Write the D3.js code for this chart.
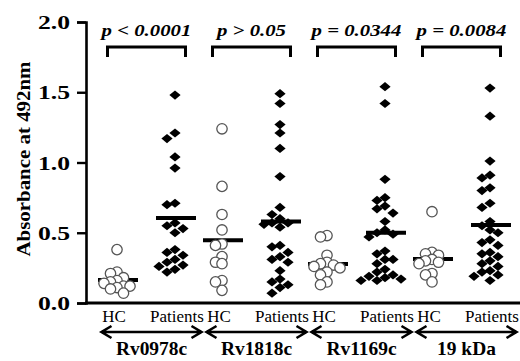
<!DOCTYPE html>
<html>
<head>
<meta charset="utf-8">
<script src="https://cdn.jsdelivr.net/npm/d3@7"></script>
<style>
  body { margin: 0; background: #fff; }
  svg { display: block; }
</style>
</head>
<body>
<div id="chart"></div>
<script>
// Groups and sub-columns
const groups = ["Rv0978c", "Rv1818c", "Rv1169c", "19 kDa"];
const subgroups = ["HC", "Patients"];
const pLabels = ["p < 0.0001", "p > 0.05", "p = 0.0344", "p = 0.0084"];
const yTicks = [0, 0.5, 1.0, 1.5, 2.0];

// Absorbance values
const hcValues = [
  [0.38, 0.22, 0.21, 0.18, 0.16, 0.15, 0.14, 0.12, 0.12, 0.11, 0.10, 0.07],
  [1.24, 0.83, 0.63, 0.52, 0.42, 0.41, 0.33, 0.29, 0.28, 0.16, 0.15, 0.09],
  [0.48, 0.47, 0.34, 0.29, 0.28, 0.27, 0.26, 0.25, 0.22, 0.20, 0.15, 0.13],
  [0.65, 0.36, 0.35, 0.34, 0.31, 0.30, 0.29, 0.28, 0.21, 0.20, 0.15]
];
const patientValues = [
  [1.48, 1.21, 1.17, 1.04, 0.96, 0.71, 0.70, 0.57, 0.55, 0.53, 0.50, 0.38, 0.36,
   0.34, 0.31, 0.29, 0.27, 0.26, 0.24, 0.22],
  [1.49, 1.42, 1.27, 1.21, 1.10, 0.90, 0.68, 0.63, 0.60, 0.57, 0.57, 0.56, 0.54,
   0.41, 0.40, 0.36, 0.33, 0.31, 0.29, 0.23, 0.17, 0.15, 0.13, 0.11, 0.07],
  [1.54, 1.42, 0.88, 0.75, 0.73, 0.69, 0.67, 0.64, 0.58, 0.52, 0.50, 0.49, 0.47,
   0.37, 0.35, 0.31, 0.31, 0.28, 0.24, 0.22, 0.20, 0.19, 0.18, 0.17, 0.16, 0.16],
  [1.53, 1.33, 1.01, 0.91, 0.89, 0.82, 0.80, 0.71, 0.68, 0.58, 0.55, 0.52, 0.50,
   0.45, 0.43, 0.41, 0.36, 0.35, 0.33, 0.30, 0.28, 0.26, 0.23, 0.22, 0.20, 0.19, 0.16]
];

const width = 520;
const height = 361;
const serif = "'Liberation Serif', 'DejaVu Serif', 'Times New Roman', serif";

const svg = d3.select("#chart").append("svg")
  .attr("width", width)
  .attr("height", height);

// Scales
const y = d3.scaleLinear().domain([0, 2]).range([303, 22]);
const xGroup = d3.scaleBand().domain(groups).range([93, 513]);
const xSub = d3.scalePoint().domain(subgroups).range([24, 82]);
const xPos = (g, s) => xGroup(g) + xSub(s);
const groupMid = g => xGroup(g) + xGroup.bandwidth() / 2;

function addText(sel) {
  return sel.append("text").style("font-family", serif).attr("fill", "#000");
}

// Y axis
const yAxis = svg.append("g")
  .attr("transform", "translate(86,0)")
  .call(d3.axisLeft(y).tickValues(yTicks).tickSize(9).tickFormat(d3.format(".1f")));
yAxis.select(".domain").attr("stroke", "#000").attr("stroke-width", 2.6);
yAxis.selectAll(".tick line").attr("stroke", "#000").attr("stroke-width", 2.4);
yAxis.selectAll(".tick text")
  .attr("x", 0).attr("dy", null)
  .attr("text-anchor", "end")
  .attr("fill", "#000")
  .style("font-family", serif)
  .style("font-size", "19px")
  .style("font-weight", "bold")
  .attr("transform", "translate(-16,6.5) scale(1.35,1)");

// X axis line
svg.append("line")
  .attr("x1", 85).attr("x2", width)
  .attr("y1", y(0)).attr("y2", y(0))
  .attr("stroke", "#000")
  .attr("stroke-width", 3);

// Y title
addText(svg)
  .attr("transform", "translate(30,159) rotate(-90) scale(1.1,1)")
  .attr("text-anchor", "middle")
  .style("font-size", "19px")
  .style("font-weight", "bold")
  .text("Absorbance at 492nm");

// Simple beeswarm so overlapping points spread sideways
function swarm(values, cx, step, minDist) {
  const pts = values.map(v => ({ v: v, y: y(v) })).sort((a, b) => a.y - b.y);
  const placed = [];
  pts.forEach(p => {
    for (let k = 0; k < 30; k++) {
      const off = k === 0 ? 0 : (k % 2 ? -Math.ceil(k / 2) : Math.ceil(k / 2)) * step;
      const x = cx + off;
      if (!placed.some(q => Math.hypot(q.x - x, q.y - p.y) < minDist)) {
        p.x = x;
        break;
      }
    }
    placed.push(p);
  });
  return placed;
}

const diamond = "M0,-4.6L5.6,0L0,4.6L-5.6,0Z";

groups.forEach((g, i) => {
  const hcX = xPos(g, "HC");
  const ptX = xPos(g, "Patients");

  // mean bars
  [[hcX, hcValues[i]], [ptX, patientValues[i]]].forEach(([cx, vals]) => {
    svg.append("line")
      .attr("x1", cx - 19).attr("x2", cx + 21)
      .attr("y1", y(d3.mean(vals))).attr("y2", y(d3.mean(vals)))
      .attr("stroke", "#000")
      .attr("stroke-width", 4);
  });

  // HC circles
  svg.append("g").selectAll("circle")
    .data(swarm(hcValues[i], hcX, 6.5, 6.5))
    .join("circle")
    .attr("cx", d => d.x)
    .attr("cy", d => d.y)
    .attr("r", 5.2)
    .attr("fill", "#fff")
    .attr("stroke", "#555")
    .attr("stroke-width", 1.3);

  // Patient diamonds
  svg.append("g").selectAll("path")
    .data(swarm(patientValues[i], ptX, 8, 7.5))
    .join("path")
    .attr("d", diamond)
    .attr("transform", d => "translate(" + d.x + "," + d.y + ")")
    .attr("fill", "#000");

  // bracket and p value
  const mid = groupMid(g) + 1;
  svg.append("path")
    .attr("d", "M" + (mid - 39) + ",57V47H" + (mid + 39) + "V57")
    .attr("fill", "none")
    .attr("stroke", "#000")
    .attr("stroke-width", 3);
  addText(svg)
    .attr("transform", "translate(" + mid + ",36) scale(1.3,1)")
    .attr("text-anchor", "middle")
    .style("font-size", "16px")
    .style("font-weight", "bold")
    .style("font-style", "italic")
    .text(pLabels[i]);

  // sub labels
  subgroups.forEach(s => {
    addText(svg)
      .attr("x", xPos(g, s) + (s === "HC" ? -3 : 2))
      .attr("y", 322)
      .attr("text-anchor", "middle")
      .style("font-size", "17px")
      .text(s);
  });

  // double arrow
  const ac = groupMid(g) + 6;
  const x1 = ac - 50, x2 = ac + 50, ay = 332;
  svg.append("path")
    .attr("d", "M" + x1 + "," + ay + "H" + x2 +
      "M" + (x1 + 10) + "," + (ay - 6) + "L" + x1 + "," + ay + "L" + (x1 + 10) + "," + (ay + 6) +
      "M" + (x2 - 10) + "," + (ay - 6) + "L" + x2 + "," + ay + "L" + (x2 - 10) + "," + (ay + 6))
    .attr("fill", "none")
    .attr("stroke", "#000")
    .attr("stroke-width", 2.6);

  // group name
  addText(svg)
    .attr("transform", "translate(" + ac + ",355) scale(1.08,1)")
    .attr("text-anchor", "middle")
    .style("font-size", "18px")
    .style("font-weight", "bold")
    .text(g);
});
</script>
</body>
</html>
